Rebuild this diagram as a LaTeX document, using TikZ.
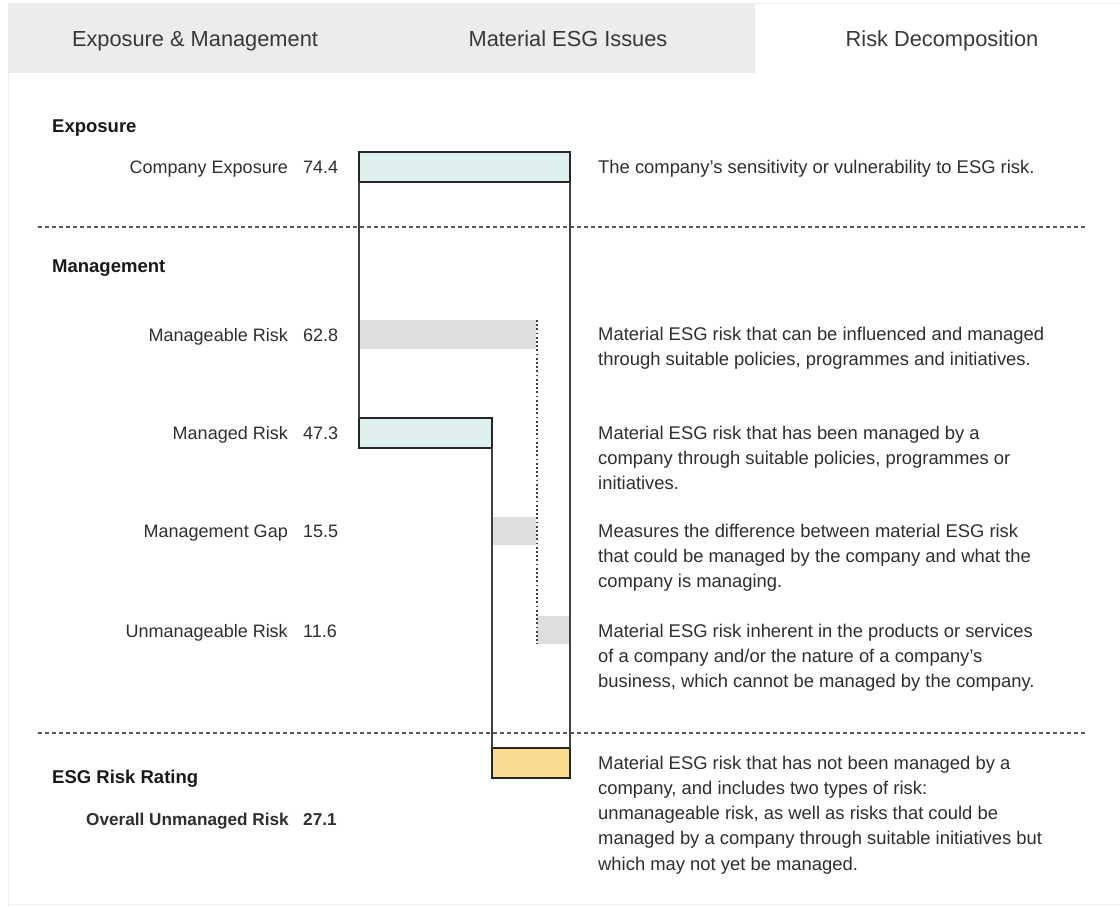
\documentclass[tikz,border=0pt]{standalone}
\usepackage{fontspec}
\setmainfont{Liberation Sans}
\begin{document}
\begin{tikzpicture}[x=1pt,y=-1pt,
	txt/.style={font=\fontsize{18.4}{25.3}\selectfont,text=black!82,inner sep=0pt},
	head/.style={font=\fontsize{18.5}{20}\selectfont\bfseries,text=black!90,inner sep=0pt,anchor=base west},
	tab/.style={font=\fontsize{21.8}{24}\selectfont,text=black!78,inner sep=0pt,anchor=base},
	desc/.style={txt,anchor=north west,align=left},
	lab/.style={txt,font=\fontsize{18}{22}\selectfont,anchor=base east},
	val/.style={txt,font=\fontsize{18}{22}\selectfont,anchor=base west},
	bar/.style={draw=black!85,line width=1.6pt,inner sep=0pt,outer sep=0pt,minimum height=30},
	ghost/.style={fill=black!13,inner sep=0pt,outer sep=0pt,minimum height=29},
	sep/.style={black!65,line width=1.3pt,dash pattern=on 4pt off 3pt},
	dotline/.style={black!75,line width=2pt,dash pattern=on 1.8pt off 2.4pt},
	stem/.style={black!75,line width=1.4pt}]
	\useasboundingbox (0,0) rectangle (1120,907);
	\definecolor{tabgrey}{HTML}{ECECEC}
	\definecolor{expocyan}{HTML}{DDF0ED}
	\definecolor{riskgold}{HTML}{F9DC90}

	% tabs
	\fill[tabgrey] (8,3) rectangle (755,73);
	\draw[black!6,line width=1pt] (755,3.5) -- (1120,3.5) (8,73) -- (8,907) (8,904) -- (1120,904);
	\node[tab] (tabexpo) at (195,47) {Exposure \& Management};
	\node[tab] (tabissues) at (568,47) {Material ESG Issues};
	\node[tab] (tabrisk) at (942,47) {Risk Decomposition};

	% section titles and separators
	\node[head] (hexpo) at (52,132) {Exposure};
	\node[head] (hmgmt) at (52,272) {Management};
	\node[head] (hrating) at (52,783) {ESG Risk Rating};
	\coordinate (sepA) at (38,227); \coordinate (sepAend) at (1085,227);
	\coordinate (sepB) at (38,733); \coordinate (sepBend) at (1085,733);
	\draw[sep] (sepA) -- (sepAend); \draw[sep] (sepB) -- (sepBend);

	% bars
	\node[ghost,minimum width=176] (manageable) at (448,334.5) {};
	\node[ghost,minimum width=43,minimum height=28] (gap) at (514.5,531) {};
	\node[ghost,minimum width=32,minimum height=28] (unman) at (553,630) {};
	\coordinate (dotend) at (manageable.north east |- unman.south);
	\draw[dotline] ([xshift=1pt]manageable.north east) -- ([xshift=1pt]dotend);
	\node[bar,fill=expocyan,minimum width=211] (expo) at (464.5,167) {};
	\node[bar,fill=expocyan,minimum width=133] (managed) at (425.5,433) {};
	\node[bar,fill=riskgold,minimum width=78] (unmanaged) at (531,763) {};
	\draw[stem] (expo.south west) -- (managed.north west);
	\draw[stem] (expo.south east) -- (unmanaged.north east);
	\draw[stem] (managed.south east) -- (unmanaged.north west);

	% row labels
	\node[lab] (lexpo) at (288,173) {Company Exposure}; \node[val] (vexpo) at (303,173) {74.4};
	\node[lab] (lmanageable) at (288,341) {Manageable Risk}; \node[val] (vmanageable) at (303,341) {62.8};
	\node[lab] (lmanaged) at (288,439) {Managed Risk}; \node[val] (vmanaged) at (303,439) {47.3};
	\node[lab] (lgap) at (288,537) {Management Gap}; \node[val] (vgap) at (303,537) {15.5};
	\node[lab] (lunman) at (288,637) {Unmanageable Risk}; \node[val] (vunman) at (303,637) {11.6};
	\node[lab,font=\fontsize{17.2}{20}\selectfont\bfseries] (loverall) at (289,825) {Overall Unmanaged Risk};
	\node[val,font=\fontsize{17.2}{20}\selectfont\bfseries] (voverall) at (303,825) {27.1};

	% descriptions
	\node[desc] (dexpo) at (598,159.5) {The company's sensitivity or vulnerability to ESG risk.};
	\node[desc] (dmanageable) at (598,326.5) {Material ESG risk that can be influenced and managed\\through suitable policies, programmes and initiatives.};
	\node[desc] (dmanaged) at (598,425.5) {Material ESG risk that has been managed by a\\company through suitable policies, programmes or\\initiatives.};
	\node[desc] (dgap) at (598,523.5) {Measures the difference between material ESG risk\\that could be managed by the company and what the\\company is managing.};
	\node[desc] (dunman) at (598,623.5) {Material ESG risk inherent in the products or services\\of a company and/or the nature of a company's\\business, which cannot be managed by the company.};
	\node[desc] (dunmanaged) at (598,755.5) {Material ESG risk that has not been managed by a\\company, and includes two types of risk:\\unmanageable risk, as well as risks that could be\\managed by a company through suitable initiatives but\\which may not yet be managed.};
\end{tikzpicture}
\end{document}
